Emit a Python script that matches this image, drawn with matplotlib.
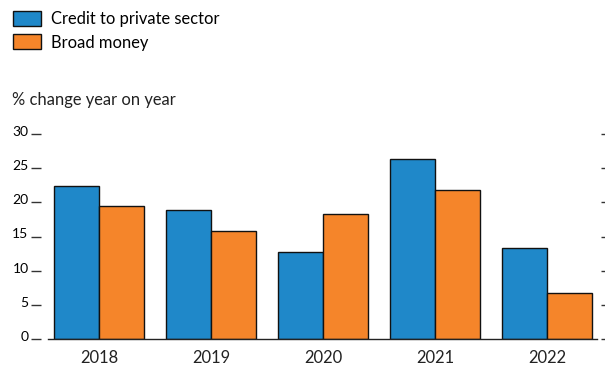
import matplotlib
matplotlib.use('Agg')
import matplotlib.pyplot as plt
import matplotlib.transforms as mtransforms
import numpy as np
from matplotlib.patches import Patch

plt.rcParams['font.family'] = ['Lato', 'DejaVu Sans']

years = ['2018', '2019', '2020', '2021', '2022']
credit = [22.4, 18.9, 12.7, 26.4, 13.3]
broad_money = [19.5, 15.8, 18.3, 21.8, 6.8]
yticks = [0, 5, 10, 15, 20, 25, 30]

blue = '#1f88c9'
orange = '#f5852a'
fs = 11.9

fig = plt.figure(figsize=(6.05, 3.69), dpi=100)
ax = fig.add_axes([48 / 605, 1 - 339 / 369, 549 / 605, 205 / 369])

x = np.arange(len(years))
w = 0.4
ax.bar(x - w / 2, credit, w, color=blue, edgecolor='#111111', linewidth=1.0, zorder=2)
ax.bar(x + w / 2, broad_money, w, color=orange, edgecolor='#111111', linewidth=1.0, zorder=2)

ax.set_xlim(-0.455, 4.445)
ax.set_ylim(0, 30)
ax.set_xticks(x)
ax.set_xticklabels(years, fontsize=fs, color='#222222')
ax.tick_params(axis='x', length=0, pad=8)

ax.set_yticks(yticks)
ax.set_yticklabels([str(v) for v in yticks], fontsize=fs, color='#222222')
ax.tick_params(axis='y', left=True, right=True, length=7, width=1, color='#333333', pad=2)
ax.spines['left'].set_position(('outward', 5))
ax.spines['right'].set_position(('outward', 3))
for s in ['left', 'right', 'top']:
    ax.spines[s].set_visible(False)
ax.spines['bottom'].set_color('#222222')
ax.spines['bottom'].set_linewidth(1.0)
ax.spines['bottom'].set_zorder(3)

# y tick labels sit a little above their tick marks
offset = mtransforms.ScaledTranslation(0, 3 / 100, fig.dpi_scale_trans)
for lbl in ax.get_yticklabels():
    lbl.set_transform(lbl.get_transform() + offset)

handles = [Patch(facecolor=blue, edgecolor='#111111', linewidth=1.0),
           Patch(facecolor=orange, edgecolor='#111111', linewidth=1.0)]
fig.legend(handles, ['Credit to private sector', 'Broad money'],
           loc='upper left', bbox_to_anchor=(13 / 605, 1 - 11 / 369),
           frameon=False, fontsize=fs, borderpad=0, borderaxespad=0,
           handlelength=1.7, handleheight=1.0, handletextpad=0.6,
           labelspacing=0.45)

fig.text(12 / 605, 1 - 100 / 369, '% change year on year', fontsize=fs,
         color='#222222', va='center', ha='left')

fig.savefig('out.png', dpi=100)
